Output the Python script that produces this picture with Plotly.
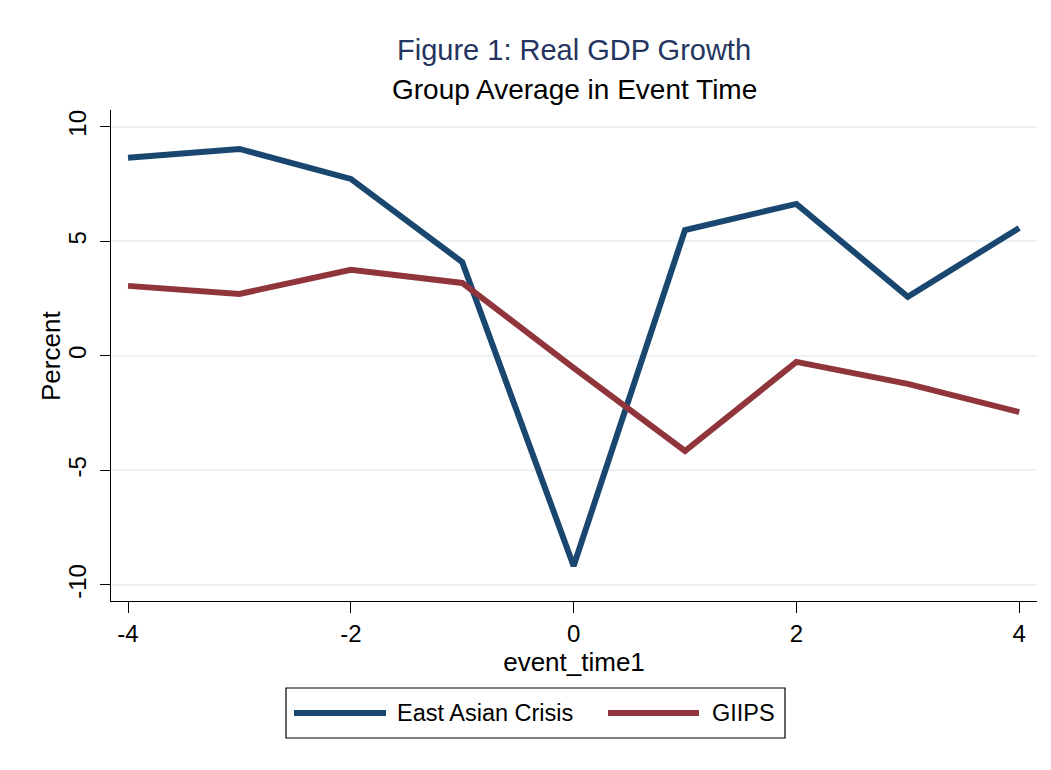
import plotly.graph_objects as go

event_time = [-4, -3, -2, -1, 0, 1, 2, 3, 4]
east_asian = [8.65, 9.04, 7.73, 4.10, -9.17, 5.50, 6.64, 2.58, 5.59]
giips = [3.06, 2.71, 3.76, 3.19, -0.52, -4.15, -0.26, -1.22, -2.45]
x_ticks = [-4, -2, 0, 2, 4]
x_tick_labels = ["-4", "-2", "0", "2", "4"]
y_ticks = [-10, -5, 0, 5, 10]
y_tick_labels = ["-10", "-5", "0", "5", "10"]
series_names = ["East Asian Crisis", "GIIPS"]

NAVY = "#1a476f"
MAROON = "#90353b"
FONT = "Liberation Sans, Arial, sans-serif"

# page body has an 8px margin; work in reference pixel coords shifted by OFF
OFF = 8
FW, FH = 1051 - 2 * OFF, 770 - 2 * OFF
L, R, T, B = 111 - OFF, 1037 - OFF, 110 - OFF, 601 - OFF
W, H = R - L, B - T

def px(xp):
    return (xp - OFF - L) / W

def py(yp):
    return (B - (yp - OFF)) / H

fig = go.Figure()
fig.add_trace(go.Scatter(x=event_time, y=east_asian, mode="lines", name=series_names[0],
                         line=dict(color=NAVY, width=6)))
fig.add_trace(go.Scatter(x=event_time, y=giips, mode="lines", name=series_names[1],
                         line=dict(color=MAROON, width=6)))

fig.update_layout(
    width=FW, height=FH,
    margin=dict(l=L, r=FW - R, t=T, b=FH - B),
    paper_bgcolor="white", plot_bgcolor="white",
    showlegend=False,
    font=dict(family=FONT, color="black", size=24),
    xaxis=dict(range=[-4.153, 4.16], tickvals=x_ticks, ticktext=x_tick_labels,
               ticks="outside", ticklen=11,
               tickwidth=1.2, tickcolor="black", showline=True, linecolor="black",
               linewidth=1.2, showgrid=False, zeroline=False,
               tickfont=dict(size=24, family=FONT),
               title=dict(text="event_time1", font=dict(size=26, family=FONT), standoff=4)),
    yaxis=dict(range=[-10.70, 10.74], tickvals=y_ticks, ticktext=y_tick_labels,
               ticks="outside", ticklen=10,
               tickwidth=1.2, tickcolor="black", showline=True, linecolor="black",
               linewidth=1.2, showgrid=True, gridcolor="#eaf2f3", gridwidth=2,
               zeroline=False, tickangle=-90, ticklabelstandoff=4,
               tickfont=dict(size=24, family=FONT)),
)

# y-axis title
fig.add_annotation(text="Percent", xref="paper", yref="paper", x=px(51), y=py(356),
                   xanchor="center", yanchor="middle", textangle=-90, showarrow=False,
                   font=dict(size=26, family=FONT, color="black"))

# Titles
fig.add_annotation(text="Figure 1: Real GDP Growth", xref="paper", yref="paper",
                   x=0.5, y=py(50), xanchor="center", yanchor="middle", showarrow=False,
                   font=dict(size=29, family=FONT, color="#24355f"))
fig.add_annotation(text="Group Average in Event Time", xref="paper", yref="paper",
                   x=0.5, y=py(89), xanchor="center", yanchor="middle", showarrow=False,
                   font=dict(size=28, family=FONT, color="black"))

# Custom legend (box, keys, labels)
fig.add_shape(type="rect", xref="paper", yref="paper", x0=px(286), x1=px(785),
              y0=py(738), y1=py(688), line=dict(color="black", width=1.2),
              fillcolor="white", layer="above")
ly = py(713)
fig.add_shape(type="line", xref="paper", yref="paper", x0=px(294), x1=px(386), y0=ly, y1=ly,
              line=dict(color=NAVY, width=6))
fig.add_shape(type="line", xref="paper", yref="paper", x0=px(608), x1=px(699), y0=ly, y1=ly,
              line=dict(color=MAROON, width=6))
fig.add_annotation(text=series_names[0], xref="paper", yref="paper", x=px(395), y=ly,
                   xanchor="left", yanchor="middle", showarrow=False,
                   font=dict(size=23.5, family=FONT, color="black"))
fig.add_annotation(text=series_names[1], xref="paper", yref="paper", x=px(710), y=ly,
                   xanchor="left", yanchor="middle", showarrow=False,
                   font=dict(size=23.5, family=FONT, color="black"))

fig.write_html("out.html")
